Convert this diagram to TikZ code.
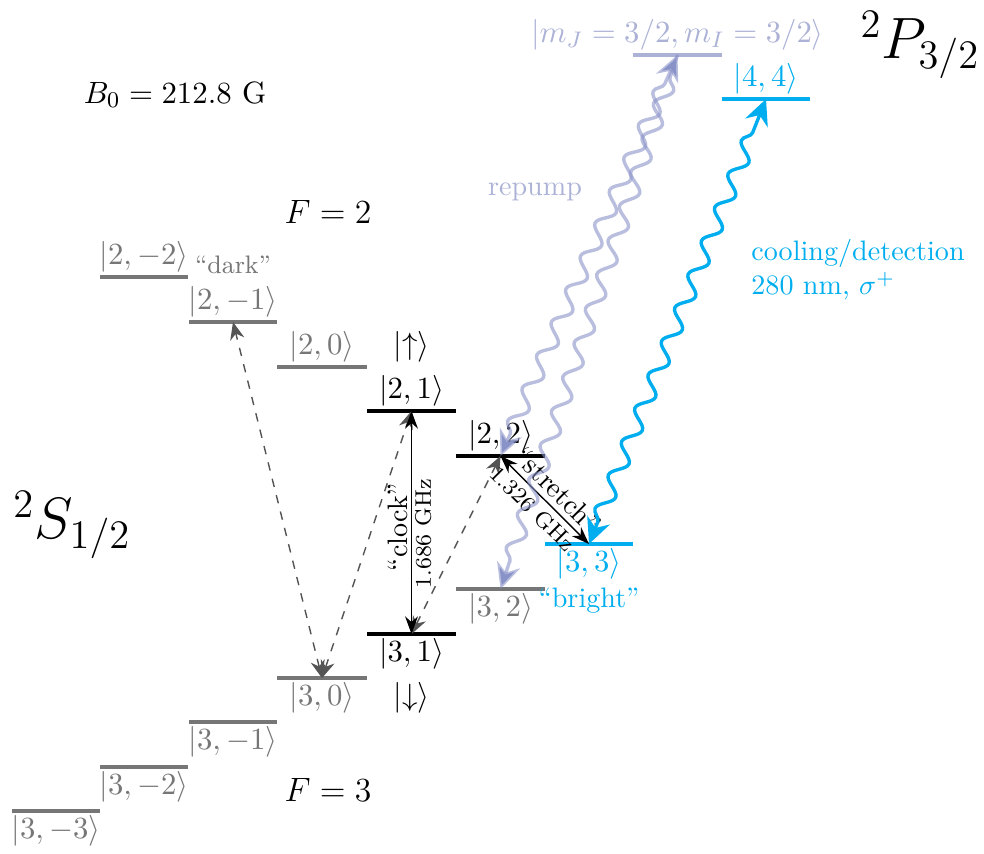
\documentclass[tikz,border=0pt,11pt]{standalone}
\usetikzlibrary{arrows.meta, positioning, decorations.pathmorphing}
\definecolor{cyanl}{RGB}{0,174,239}
\definecolor{lavl}{RGB}{172,178,214}
\definecolor{lavw}{RGB}{138,147,200}
\definecolor{grl}{RGB}{118,118,118}
\definecolor{grd}{RGB}{85,85,85}
\tikzset{
  lk/.style = {draw=black, line width=1.1pt},
  lg/.style = {draw=grl, line width=1.1pt},
  lc/.style = {draw=cyanl, line width=1.1pt},
  ll/.style = {draw=lavl, line width=1.1pt},
  kt/.style = {inner sep=1.5pt, text=black},
  ktg/.style = {inner sep=1.5pt, text=grl},
  ktc/.style = {inner sep=1.5pt, text=cyanl},
  ktl/.style = {inner sep=1.5pt, text=lavl},
  bk/.style = {draw=black, line width=0.5pt, >={Stealth[length=2.2mm, width=1.6mm]}, <->},
  da/.style = {draw=grd, dashed, line width=0.5pt, >={Stealth[length=2.2mm, width=1.8mm]}, <->},
  wv/.style = {decorate, decoration={snake, amplitude=0.95mm, segment length=4.5mm,
    pre length=3mm, post length=3.5mm}, line width=1.2pt},
  cw/.style = {wv, draw=cyanl, >={Stealth[length=3.2mm, width=3mm]}},
  lw/.style = {wv, draw=lavw, draw opacity=0.6, >={Stealth[length=3.2mm, width=3mm]}},
  tl/.style = {font=\small, inner sep=1pt}
}

\begin{document}
\begin{tikzpicture}[x=0.0125cm, y=-0.0125cm]
  \useasboundingbox (0,0) rectangle (984,853);
  % F = 2 levels
  \draw [lg] (100,277) -- coordinate (f2n2) (188,277);
  \draw [lg] (189,322) -- coordinate (f2n1) (277,322);
  \draw [lg] (277,367) -- coordinate (f20) (367,367);
  \draw [lk] (367,411) -- coordinate (f21) (456,411);
  \draw [lk] (456,456) -- coordinate (f22) (545,456);
  \node [ktg, above] (lf2n2) at (f2n2) {$|2,-2\rangle$};
  \node [ktg, above] (lf2n1) at (f2n1) {$|2,-1\rangle$};
  \node [ktg, above] (lf20) at (f20) {$|2,0\rangle$};
  \node [kt, above] (lf21) at (f21) {$|2,1\rangle$};
  \node [kt, above] (lf22) at (f22) {$|2,2\rangle$};
  \node [kt] (up) at (lf20 -| f21) {$|{\uparrow}\rangle$};
  \node [ktg, font=\footnotesize] (dk) at (233,265) {``dark''};
  % F = 3 levels
  \draw [lg] (12,811) -- coordinate (f3n3) (100,811);
  \draw [lg] (100,767) -- coordinate (f3n2) (188,767);
  \draw [lg] (189,722) -- coordinate (f3n1) (277,722);
  \draw [lg] (277,678) -- coordinate (f30) (367,678);
  \draw [lk] (367,634) -- coordinate (f31) (456,634);
  \draw [lg] (456,589) -- coordinate (f32) (545,589);
  \draw [lc] (545,544) -- coordinate (f33) (633,544);
  \node [ktg, below] (lf3n3) at (f3n3) {$|3,-3\rangle$};
  \node [ktg, below] (lf3n2) at (f3n2) {$|3,-2\rangle$};
  \node [ktg, below] (lf3n1) at (f3n1) {$|3,-1\rangle$};
  \node [ktg, below] (lf30) at (f30) {$|3,0\rangle$};
  \node [kt, below] (lf31) at (f31) {$|3,1\rangle$};
  \node [ktg, below] (lf32) at (f32) {$|3,2\rangle$};
  \node [ktc, below] (lf33) at (f33) {$|3,3\rangle$};
  \node [kt] (dn) at (lf30 -| f31) {$|{\downarrow}\rangle$};
  \node [tl, text=cyanl, below=0pt of lf33] (bri) {``bright''};
  % P_3/2 levels
  \draw [ll] (633,55) -- coordinate (pj) (722,55);
  \draw [lc] (722,99) -- coordinate (p44) (810,99);
  \node [ktl, above] (lpj) at (pj) {$|m_J=3/2, m_I=3/2\rangle$};
  \node [ktc, above] (lp44) at (p44) {$|4,4\rangle$};
  % titles
  \node [font=\huge] (s12) at (72,525) {$^2S_{1/2}$};
  \node [font=\huge] (p32) at (920,45) {$^2P_{3/2}$};
  \node (bz) at (175,95) {$B_0 = 212.8~\mathrm{G}$};
  \node [font=\large] (ft2) at (328,212) {$F = 2$};
  \node [font=\large] (ft3) at (328,790) {$F = 3$};
  % microwave transitions
  \draw [da] (f30) -- (f2n1);
  \draw [da] (f30) -- (f21);
  \draw [da] (f31) -- (f22);
  \draw [bk] (f31) -- node [tl, sloped, above, pos=.48] (clk) {``clock''}
    node [tl, font=\scriptsize, sloped, below, pos=.45] (ghz1) {1.686 GHz} (f21);
  \draw [bk] (f22) -- node [tl, inner sep=2pt, sloped, above, pos=.52] (str) {``stretch''}
    node [tl, inner sep=2pt, font=\scriptsize, sloped, below, pos=.48] (ghz2) {1.326 GHz} (f33);
  % optical transitions
  \draw [lw, <->] (f22) -- (pj);
  \draw [lw, ->] (pj) -- (f32);
  \draw [cw, <->] (f33) -- (p44);
  \node [tl, text=lavl] (rep) at (535,192) {repump};
  \node [tl, text=cyanl, anchor=west, align=left] (cool) at (748,270)
    {cooling/detection\\280 nm, $\sigma^+$};
\end{tikzpicture}
\end{document}
